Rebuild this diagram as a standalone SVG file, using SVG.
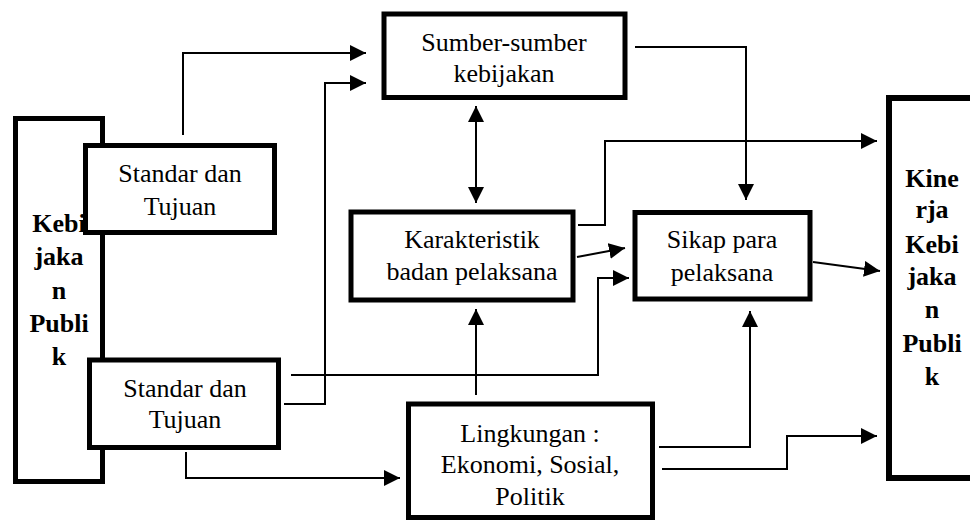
<svg xmlns="http://www.w3.org/2000/svg" width="970" height="520" viewBox="0 0 970 520">
<defs>
<marker id="ah" markerUnits="userSpaceOnUse" markerWidth="16" markerHeight="16" refX="16" refY="8" orient="auto" viewBox="0 0 16 16">
<path d="M0,0 L16,8 L0,16 z" fill="#000"/>
</marker>
<marker id="ahs" markerUnits="userSpaceOnUse" markerWidth="16" markerHeight="16" refX="0" refY="8" orient="auto" viewBox="0 0 16 16">
<path d="M16,0 L0,8 L16,16 z" fill="#000"/>
</marker>
<style>
.box{fill:#fff;stroke:#000;stroke-width:5}
.c{fill:none;stroke:#000;stroke-width:2}
.a{marker-end:url(#ah)}
</style>
</defs>
<rect width="970" height="520" fill="#fff"/>

<g id="kebijakan-publik">
<rect class="box" x="15.5" y="118.5" width="87" height="363"/>
<g font-family="Liberation Serif" font-size="26" font-weight="bold" text-anchor="middle">
<text x="59" y="232">Kebi</text>
<text x="59" y="265">jaka</text>
<text x="59" y="299">n</text>
<text x="59" y="332">Publi</text>
<text x="59" y="365">k</text>
</g>
</g>

<g id="standar-tujuan-1">
<rect class="box" x="85.5" y="145.5" width="189" height="87"/>
<g font-family="Liberation Serif" font-size="26" text-anchor="middle">
<text x="180" y="182">Standar dan</text>
<text x="180" y="215">Tujuan</text>
</g>
</g>

<g id="standar-tujuan-2">
<rect class="box" x="89.5" y="360" width="189" height="87.5"/>
<g font-family="Liberation Serif" font-size="26" text-anchor="middle">
<text x="185" y="397">Standar dan</text>
<text x="185" y="428">Tujuan</text>
</g>
</g>

<g id="sumber-sumber">
<rect class="box" x="384" y="14" width="241" height="83.5"/>
<g font-family="Liberation Serif" font-size="26" text-anchor="middle">
<text x="504" y="51">Sumber-sumber</text>
<text x="504" y="82">kebijakan</text>
</g>
</g>

<g id="karakteristik">
<rect class="box" x="351" y="212" width="222" height="88"/>
<g font-family="Liberation Serif" font-size="26" text-anchor="middle">
<text x="472" y="248">Karakteristik</text>
<text x="472" y="280">badan pelaksana</text>
</g>
</g>

<g id="sikap">
<rect class="box" x="635" y="212.5" width="175" height="86.5"/>
<g font-family="Liberation Serif" font-size="26" text-anchor="middle">
<text x="722" y="248">Sikap para</text>
<text x="722" y="281">pelaksana</text>
</g>
</g>

<g id="lingkungan">
<rect class="box" x="408.5" y="404" width="244" height="113.5"/>
<g font-family="Liberation Serif" font-size="26" text-anchor="middle">
<text x="530" y="442">Lingkungan :</text>
<text x="530" y="473">Ekonomi, Sosial,</text>
<text x="530" y="505">Politik</text>
</g>
</g>

<g id="kinerja">
<rect class="box" stroke-width="6" style="stroke-width:6" x="889" y="98" width="100" height="380"/>
<g font-family="Liberation Serif" font-size="26" font-weight="bold" text-anchor="middle">
<text x="932" y="187">Kine</text>
<text x="932" y="218">rja</text>
<text x="932" y="253">Kebi</text>
<text x="932" y="285">jaka</text>
<text x="932" y="318">n</text>
<text x="932" y="352">Publi</text>
<text x="932" y="385">k</text>
</g>
</g>

<g id="connectors">
<path class="c a" d="M183,135 V53 H366"/>
<path class="c a" d="M284,404 H325 V83 H366"/>
<path class="c a" d="M291,375 H598 V278 H629"/>
<path class="c a" d="M186,452 V478 H400"/>
<path class="c a" d="M476,106 V203" marker-start="url(#ahs)"/>
<path class="c a" d="M635,47 H746 V200"/>
<path class="c a" d="M577,257 L625,248"/>
<path class="c a" d="M578,225 H605 V141 H877"/>
<path class="c a" d="M476,395 V309"/>
<path class="c a" d="M813,262 L880,271"/>
<path class="c a" d="M659,447 H750 V311"/>
<path class="c a" d="M662,469 H787 V436 H877"/>
</g>
</svg>
